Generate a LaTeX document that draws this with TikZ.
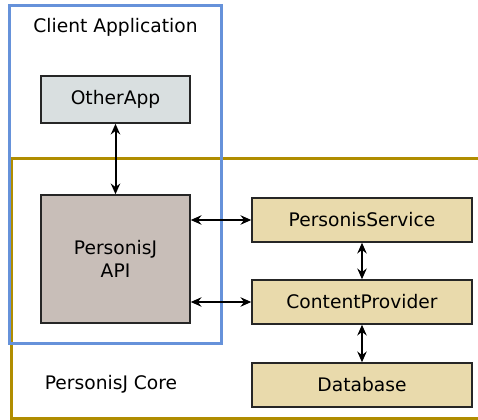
\documentclass[tikz,border=0pt]{standalone}
\usepackage{fontspec}
\setmainfont{DejaVu Sans}
\usetikzlibrary{arrows.meta}
\definecolor{clientblue}{RGB}{102,146,218}
\definecolor{coregold}{RGB}{176,141,0}
\definecolor{appgray}{RGB}{217,223,224}
\definecolor{apibrown}{RGB}{200,190,184}
\definecolor{coretan}{RGB}{233,218,172}
\begin{document}
\begin{tikzpicture}[x=0.75pt, y=-0.75pt,
        font=\fontsize{14}{17}\selectfont,
        box/.style={draw=black!85, line width=1.1pt, inner sep=0pt, align=center},
        corebox/.style={box, fill=coretan, minimum width=165pt, minimum height=33pt},
        link/.style={line width=1.5pt, {Stealth[length=8pt,width=7pt]}-{Stealth[length=8pt,width=7pt]}}]
        \clip (0,0) rectangle (478,420);
        \draw[coregold, line width=2.25pt] (11,159) rectangle (490,418);
        \draw[clientblue, line width=2.25pt] (9,6) rectangle (221,343);
        \node (client) at (115.5,27) {Client Application};
        \node (core) at (111,384) {PersonisJ Core};
        \node[box, fill=appgray, minimum width=111.75pt, minimum height=35.25pt] (other) at (115.5,99.5) {OtherApp};
        \node[box, fill=apibrown, minimum width=111.75pt, minimum height=96pt] (api) at (115.5,259) {PersonisJ\\API};
        \node[corebox] (service) at (362,220) {PersonisService};
        \node[corebox] (provider) at (362,302) {ContentProvider};
        \node[corebox] (db) at (362,385) {Database};
        \draw[link] (other) -- (api);
        \draw[link] (api.east |- service.west) -- (service.west);
        \draw[link] (api.east |- provider.west) -- (provider.west);
        \draw[link] (service) -- (provider);
        \draw[link] (provider) -- (db);
\end{tikzpicture}
\end{document}
